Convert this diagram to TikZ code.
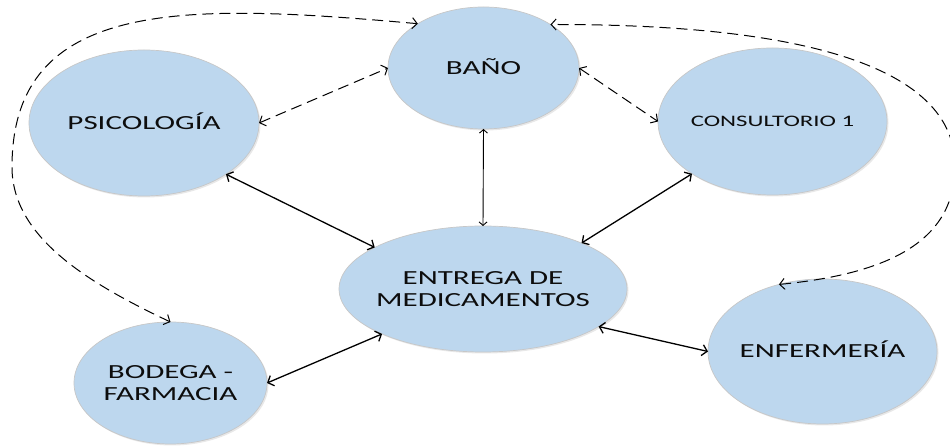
\documentclass[tikz,border=0pt]{standalone}
\usepackage{fontspec}
\setmainfont{Carlito}[FakeStretch=1.55]
\usetikzlibrary{arrows.meta,shapes.geometric,shadows}
\definecolor{fillblue}{HTML}{BDD7EE}
\begin{document}
\begin{tikzpicture}[x=1pt,y=1pt,
  place/.style={ellipse, fill=fillblue, draw=black!22, line width=0.7pt, inner sep=0pt, outer sep=0pt,
    drop shadow={shadow xshift=1.5pt, shadow yshift=-1.5pt, opacity=0.18, fill=gray}},
  lbl/.style={inner sep=0pt, font=\fontsize{20}{22}\selectfont, text=black!95, align=center},
  onel/.style={lbl, text height=12.9pt, text depth=0pt},
  tip/.style={Straight Barb[length=5pt,width=11pt]},
  link/.style={line width=1.3pt, {Straight Barb[length=5pt,width=11pt]}-{Straight Barb[length=5pt,width=11pt]}},
  vlink/.style={line width=0.9pt, {Straight Barb[length=3.5pt,width=8pt]}-{Straight Barb[length=3.5pt,width=8pt]}},
  dlink/.style={line width=1pt, dash pattern=on 11pt off 6pt, {Straight Barb[length=5pt,width=11pt]}-{Straight Barb[length=5pt,width=11pt]}}
]
\useasboundingbox (0,0) rectangle (950,446);

% ellipses
\node[place, minimum width=230pt, minimum height=146pt] (psi)  at (144,323)   {};
\node[place, minimum width=191pt, minimum height=122pt] (bano) at (483.5,378) {};
\node[place, minimum width=229pt, minimum height=147pt] (cons) at (772.5,324.5) {};
\node[place, minimum width=288pt, minimum height=126pt] (ent)  at (483,157)   {};
\node[place, minimum width=193pt, minimum height=122pt] (bod)  at (170.5,63)  {};
\node[place, minimum width=229pt, minimum height=145pt] (enf)  at (822.5,94.5) {};

% labels
\node[onel] (psiL)  at (psi)  {PSICOLOGÍA};
\node[onel] (banoL) at (bano) {BAÑO};
\node[onel, font=\fontsize{16}{18}\selectfont, text height=10.3pt] (consL) at (cons) {CONSULTORIO 1};
\node[lbl]  (entL)  at (ent)  {ENTREGA DE\\MEDICAMENTOS};
\node[lbl]  (bodL)  at (bod)  {BODEGA -\\FARMACIA};
\node[onel] (enfL)  at (enf)  {ENFERMERÍA};

% connectors
\draw[dlink] (psi.east) -- (bano.west);
\draw[dlink] (bano.east) -- (cons.west);
\draw[vlink] (bano.south) -- (ent.north);
\draw[link] (psi.-32) -- (ent.159);
\draw[link] (cons.213) -- (ent.25);
\draw[link] (bod.east) -- (ent.204);
\draw[link] (ent.-18) -- (enf.west);

\draw[dlink] (bod.north) .. controls (88,163) and (12,209) .. (12,279)
  .. controls (12,449) and (187,443) .. (bano.146);
\draw[dlink] (enf.123) .. controls (898,173) and (955,210) .. (955,280)
  .. controls (955,380) and (801,422) .. (bano.33);
\end{tikzpicture}
\end{document}
